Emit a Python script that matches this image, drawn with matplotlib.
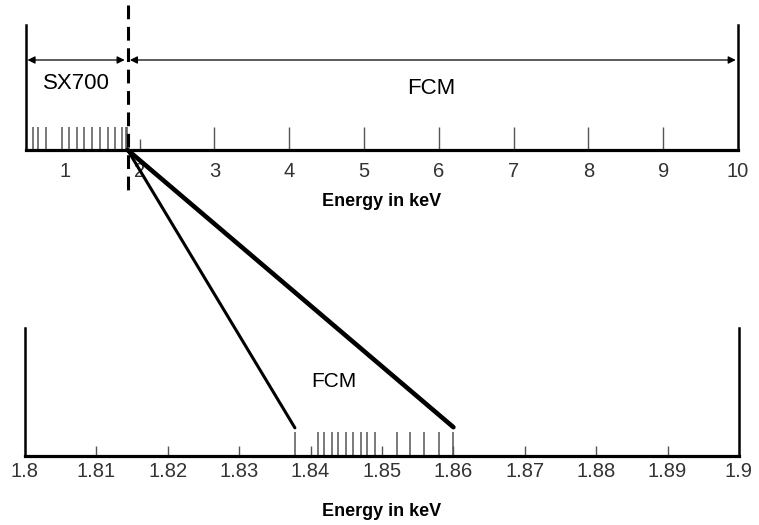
import matplotlib.pyplot as plt
from matplotlib.patches import ConnectionPatch

plt.rcParams['font.family'] = ['Liberation Sans', 'DejaVu Sans']

# energies (keV) of the scan points
sx700_energies = [0.57, 0.64, 0.75, 0.96, 1.06, 1.16, 1.26, 1.36, 1.47, 1.57, 1.67, 1.76, 1.82, 1.83]
fcm_energies = [1.8378, 1.8410, 1.8419, 1.8430, 1.8439, 1.8450, 1.8460, 1.8471,
                1.8479, 1.8490, 1.8521, 1.8539, 1.8559, 1.8580, 1.8600]
boundary = 1.839          # SX700 / FCM changeover
top_range = (0.48, 10)
top_ticks = [1, 2, 3, 4, 5, 6, 7, 8, 9, 10]
bottom_range = (1.8, 1.9)
bottom_ticks = [1.8, 1.81, 1.82, 1.83, 1.84, 1.85, 1.86, 1.87, 1.88, 1.89, 1.9]
bottom_labels = ['1.8', '1.81', '1.82', '1.83', '1.84', '1.85', '1.86', '1.87', '1.88', '1.89', '1.9']

W, H = 759, 525
fig = plt.figure(figsize=(W / 100, H / 100), dpi=100)

def px_axes(l, t, r, b):
    return fig.add_axes([l / W, 1 - b / H, (r - l) / W, (b - t) / H])

ax1 = px_axes(26, 25, 738, 150)
ax2 = px_axes(25, 328, 739, 456)

for ax in (ax1, ax2):
    ax.spines['top'].set_visible(False)
    ax.spines['left'].set_linewidth(1.8)
    ax.spines['right'].set_linewidth(1.8)
    ax.spines['bottom'].set_linewidth(2.3)
    ax.set_yticks([])
    ax.set_ylim(0, 1)
    ax.tick_params(axis='x', direction='in', width=1, color='#555555',
                   labelsize=14.5, labelcolor='#333333')

# top panel: full energy range
ax1.set_xlim(*top_range)
ax1.set_xticks(top_ticks)
ax1.set_xticklabels([str(t) for t in top_ticks])
ax1.tick_params(axis='x', length=16.5, pad=8.5)
ticks = ax1.xaxis.get_major_ticks()
ticks[0].tick1line.set_markersize(0)
ticks[1].tick1line.set_markersize(8)
ticks[-1].tick1line.set_markersize(0)
ax1.vlines(sx700_energies, 0, 0.184, color='#555555', lw=1.1)
ax1.set_xlabel('Energy in keV', fontsize=13, fontweight='bold', labelpad=9)

ax1.plot([boundary, boundary], [1.16, -0.34], color='black', lw=2.2,
         dashes=(4.5, 2.5), clip_on=False)
ax1.annotate('', xy=(top_range[0] + 0.02, 0.72), xytext=(boundary - 0.04, 0.72),
             arrowprops=dict(arrowstyle='<|-|>', lw=0.9, color='black', mutation_scale=11,
                             shrinkA=0, shrinkB=0))
ax1.annotate('', xy=(boundary + 0.03, 0.72), xytext=(top_range[1] - 0.03, 0.72),
             arrowprops=dict(arrowstyle='<|-|>', lw=0.9, color='black', mutation_scale=11,
                             shrinkA=0, shrinkB=0))
ax1.text(1.15, 0.53, 'SX700', ha='center', va='center', fontsize=16)
ax1.text(5.9, 0.49, 'FCM', ha='center', va='center', fontsize=16)

# bottom panel: zoom around the Si K edge
ax2.set_xlim(*bottom_range)
ax2.set_xticks(bottom_ticks)
ax2.set_xticklabels(bottom_labels)
ax2.tick_params(axis='x', length=7, pad=4)
bt = ax2.xaxis.get_major_ticks()
bt[0].tick1line.set_markersize(0)
bt[-1].tick1line.set_markersize(0)
ax2.vlines(fcm_energies, 0, 0.19, color='#555555', lw=1.1)
ax2.set_xlabel('Energy in keV', fontsize=13, fontweight='bold', labelpad=16)
ax2.text(1.8432, 0.58, 'FCM', ha='center', va='center', fontsize=15)

# zoom lines from the changeover point down to the FCM scan range
for x_end, y_end, lw in [(fcm_energies[0], 0.22, 2.2), (fcm_energies[-1], 0.225, 3.3)]:
    con = ConnectionPatch(xyA=(boundary, 0), coordsA=ax1.transData,
                          xyB=(x_end, y_end), coordsB=ax2.transData,
                          color='black', lw=lw)
    fig.add_artist(con)

fig.savefig('out.png', dpi=100)
